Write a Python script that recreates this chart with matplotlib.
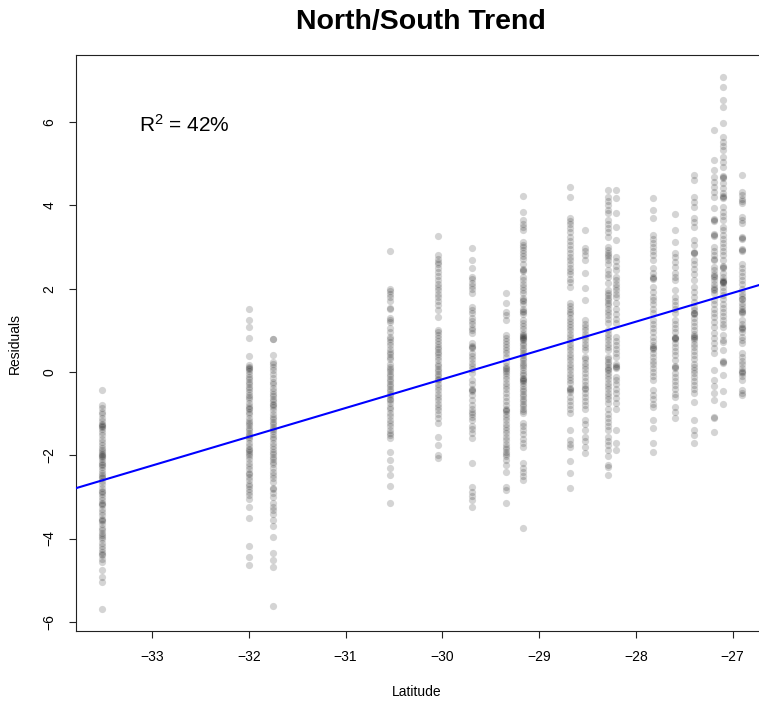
import matplotlib
matplotlib.use("Agg")
import matplotlib.pyplot as plt
import numpy as np

# ---- data ----
latitudes = [-33.52, -32.00, -31.75, -30.54, -30.04, -29.69, -29.34, -29.17, -28.68,
             -28.53, -28.29, -28.21, -27.82, -27.60, -27.40, -27.19, -27.10, -26.90]

res_01 = [-0.43, -0.80, -0.86, -0.95, -1.02, -1.10, -1.18, -1.24, -1.28, -1.30, -1.32, -1.36, -1.45, -1.52,
          -1.60, -1.68, -1.75, -1.82, -1.88, -1.93, -1.97, -2.00, -2.02, -2.05, -2.10, -2.16, -2.22, -2.24,
          -2.28, -2.35, -2.42, -2.48, -2.52, -2.55, -2.62, -2.70, -2.78, -2.85, -2.88, -2.92, -3.00, -3.08,
          -3.14, -3.16, -3.20, -3.28, -3.36, -3.44, -3.52, -3.55, -3.58, -3.66, -3.74, -3.80, -3.86, -3.92,
          -3.96, -4.02, -4.10, -4.18, -4.26, -4.32, -4.36, -4.40, -4.48, -4.56, -4.75, -4.92, -5.04, -5.68]
res_02 = [1.50, 1.25, 1.09, 0.81, 0.38, 0.17, 0.12, 0.10, 0.08, 0.02, -0.05, -0.12, -0.18, -0.24, -0.30,
          -0.35, -0.42, -0.48, -0.55, -0.60, -0.66, -0.74, -0.82, -0.86, -0.88, -0.95, -1.02, -1.10, -1.18,
          -1.22, -1.28, -1.34, -1.40, -1.46, -1.52, -1.56, -1.62, -1.70, -1.78, -1.85, -1.88, -1.92, -1.96,
          -2.02, -2.10, -2.18, -2.26, -2.34, -2.42, -2.44, -2.52, -2.60, -2.68, -2.74, -2.80, -2.88, -2.96,
          -3.05, -3.25, -3.50, -4.18, -4.44, -4.63]
res_03 = [0.78, 0.78, 0.41, 0.24, 0.18, 0.12, 0.05, -0.05, -0.15, -0.23, -0.30, -0.38, -0.46, -0.52, -0.58,
          -0.64, -0.70, -0.76, -0.80, -0.84, -0.92, -1.00, -1.08, -1.14, -1.20, -1.26, -1.32, -1.38, -1.42,
          -1.48, -1.55, -1.62, -1.70, -1.78, -1.86, -1.92, -1.98, -2.04, -2.10, -2.16, -2.22, -2.30, -2.40,
          -2.47, -2.55, -2.65, -2.79, -2.80, -2.90, -3.00, -3.14, -3.24, -3.32, -3.42, -3.55, -3.70, -3.96,
          -4.35, -4.51, -4.68, -5.63]
res_04 = [2.90, 2.00, 1.94, 1.88, 1.80, 1.70, 1.53, 1.50, 1.30, 1.25, 1.20, 1.05, 0.95, 0.85, 0.80, 0.72,
          0.64, 0.55, 0.48, 0.42, 0.37, 0.30, 0.20, 0.13, 0.08, 0.02, -0.04, -0.10, -0.16, -0.22, -0.28,
          -0.34, -0.40, -0.46, -0.52, -0.58, -0.64, -0.67, -0.75, -0.84, -0.90, -0.98, -1.06, -1.15, -1.22,
          -1.30, -1.40, -1.46, -1.52, -1.58, -1.92, -2.11, -2.31, -2.47, -2.75, -3.15]
res_05 = [3.27, 2.80, 2.72, 2.64, 2.58, 2.50, 2.40, 2.30, 2.20, 2.10, 2.05, 1.97, 1.88, 1.80, 1.70, 1.60,
          1.49, 1.32, 1.00, 0.95, 0.88, 0.82, 0.75, 0.68, 0.60, 0.55, 0.48, 0.42, 0.36, 0.29, 0.20, 0.14,
          0.08, 0.02, -0.04, -0.10, -0.16, -0.20, -0.28, -0.36, -0.44, -0.52, -0.60, -0.68, -0.76, -0.84,
          -0.92, -1.00, -1.10, -1.22, -1.55, -1.75, -2.00, -2.06]
res_06 = [2.97, 2.69, 2.49, 2.28, 2.22, 2.14, 2.06, 1.98, 1.90, 1.56, 1.48, 1.41, 1.30, 1.22, 1.14, 1.06,
          1.00, 0.93, 0.70, 0.62, 0.60, 0.58, 0.45, 0.38, 0.30, 0.22, 0.14, 0.06, -0.03, -0.20, -0.30, -0.40,
          -0.44, -0.46, -0.56, -0.67, -0.80, -0.90, -0.96, -1.02, -1.08, -1.15, -1.30, -1.38, -1.46, -1.58,
          -2.19, -2.76, -2.88, -2.98, -3.08, -3.24]
res_07 = [1.89, 1.65, 1.45, 1.36, 1.25, 0.89, 0.82, 0.75, 0.68, 0.60, 0.52, 0.45, 0.36, 0.24, 0.14, 0.10,
          0.08, 0.03, -0.03, -0.10, -0.18, -0.26, -0.34, -0.42, -0.50, -0.60, -0.70, -0.80, -0.88, -0.91,
          -0.94, -1.00, -1.08, -1.15, -1.24, -1.32, -1.40, -1.47, -1.56, -1.64, -1.72, -1.80, -1.86, -1.92,
          -1.96, -2.02, -2.11, -2.24, -2.40, -2.77, -2.83, -3.15]
res_08 = [4.22, 3.84, 3.65, 3.56, 3.48, 3.41, 3.12, 3.06, 3.00, 2.93, 2.85, 2.78, 2.70, 2.60, 2.48, 2.45,
          2.42, 2.28, 2.20, 2.12, 2.04, 1.96, 1.90, 1.78, 1.73, 1.70, 1.62, 1.52, 1.46, 1.44, 1.40, 1.25,
          1.18, 1.10, 1.02, 0.93, 0.88, 0.86, 0.84, 0.82, 0.80, 0.77, 0.70, 0.64, 0.58, 0.52, 0.46, 0.40,
          0.34, 0.28, 0.22, 0.16, 0.12, 0.05, -0.02, -0.08, -0.14, -0.18, -0.20, -0.22, -0.27, -0.34, -0.40,
          -0.46, -0.52, -0.58, -0.64, -0.70, -0.76, -0.82, -0.88, -0.94, -0.99, -1.22, -1.30, -1.40, -1.50,
          -1.60, -1.70, -1.80, -2.19, -2.30, -2.40, -2.50, -2.59, -3.74]
res_09 = [4.44, 4.20, 3.70, 3.62, 3.55, 3.46, 3.36, 3.25, 3.15, 3.05, 2.95, 2.86, 2.77, 2.69, 2.60, 2.50,
          2.42, 2.34, 2.24, 2.15, 2.05, 1.65, 1.58, 1.50, 1.44, 1.38, 1.30, 1.22, 1.15, 1.09, 1.00, 0.92,
          0.84, 0.76, 0.68, 0.60, 0.52, 0.44, 0.36, 0.28, 0.20, 0.12, 0.04, -0.04, -0.12, -0.20, -0.27,
          -0.38, -0.42, -0.44, -0.48, -0.60, -0.70, -0.80, -0.90, -0.99, -1.40, -1.63, -1.72, -1.80, -2.15,
          -2.43, -2.78]
res_10 = [3.41, 2.98, 2.90, 2.80, 2.69, 2.37, 2.02, 1.73, 1.25, 1.16, 1.09, 1.00, 0.92, 0.84, 0.76, 0.68,
          0.60, 0.53, 0.37, 0.30, 0.22, 0.14, 0.06, -0.02, -0.11, -0.22, -0.32, -0.39, -0.42, -0.50, -0.60,
          -0.70, -0.80, -0.90, -1.15, -1.25, -1.40, -1.55, -1.66, -1.80, -1.95]
res_11 = [4.37, 4.20, 4.10, 4.00, 3.90, 3.82, 3.65, 3.55, 3.45, 3.35, 3.25, 3.00, 2.92, 2.85, 2.80, 2.75,
          2.68, 2.60, 2.45, 2.36, 2.27, 2.13, 1.97, 1.90, 1.84, 1.78, 1.72, 1.66, 1.60, 1.52, 1.44, 1.36,
          1.28, 1.18, 1.00, 0.92, 0.84, 0.76, 0.68, 0.60, 0.53, 0.37, 0.30, 0.24, 0.18, 0.12, 0.08, 0.05,
          -0.03, -0.10, -0.18, -0.26, -0.34, -0.42, -0.50, -0.58, -0.66, -0.75, -0.90, -1.00, -1.10, -1.20,
          -1.30, -1.40, -1.55, -1.65, -1.76, -1.87, -2.03, -2.23, -2.28, -2.47]
res_12 = [4.37, 4.17, 3.82, 3.49, 3.17, 2.77, 2.66, 2.55, 2.45, 2.28, 2.20, 2.12, 2.04, 1.96, 1.88, 1.80,
          1.65, 1.52, 1.40, 1.28, 1.18, 0.84, 0.74, 0.64, 0.54, 0.45, 0.37, 0.18, 0.14, 0.12, 0.10, -0.11,
          -0.20, -0.30, -0.40, -0.50, -0.62, -0.75, -0.90, -1.40, -1.70, -1.87]
res_13 = [4.17, 3.89, 3.69, 3.29, 3.20, 3.10, 3.00, 2.90, 2.80, 2.69, 2.49, 2.37, 2.27, 2.25, 2.23, 2.04,
          1.92, 1.80, 1.73, 1.62, 1.52, 1.41, 1.25, 1.15, 1.05, 0.95, 0.85, 0.75, 0.65, 0.60, 0.58, 0.56,
          0.45, 0.36, 0.27, 0.18, 0.09, 0.00, -0.10, -0.20, -0.44, -0.55, -0.66, -0.76, -0.84, -1.15, -1.35,
          -1.70, -1.92]
res_14 = [3.79, 3.41, 3.12, 2.85, 2.75, 2.64, 2.52, 2.37, 2.28, 2.20, 1.97, 1.80, 1.70, 1.60, 1.50, 1.41,
          1.25, 1.15, 1.05, 0.95, 0.84, 0.82, 0.81, 0.80, 0.70, 0.60, 0.50, 0.40, 0.29, 0.14, 0.12, 0.10,
          -0.03, -0.12, -0.22, -0.32, -0.42, -0.52, -0.60, -0.84, -0.96, -1.10]
res_15 = [4.73, 4.61, 4.20, 4.08, 3.96, 3.70, 3.60, 3.49, 3.17, 3.05, 2.88, 2.86, 2.85, 2.69, 2.58, 2.48,
          2.36, 2.21, 2.04, 1.92, 1.80, 1.68, 1.56, 1.48, 1.42, 1.41, 1.40, 1.30, 1.20, 1.10, 1.00, 0.90,
          0.86, 0.84, 0.82, 0.77, 0.68, 0.60, 0.50, 0.40, 0.30, 0.20, 0.12, 0.04, -0.03, -0.12, -0.22,
          -0.32, -0.42, -0.50, -0.72, -1.15, -1.40, -1.51, -1.70]
res_16 = [5.81, 5.09, 4.85, 4.68, 4.56, 4.44, 4.32, 4.20, 3.94, 3.67, 3.65, 3.63, 3.31, 3.29, 3.27, 3.00,
          2.90, 2.80, 2.72, 2.69, 2.52, 2.44, 2.36, 2.30, 2.28, 2.20, 2.12, 2.04, 1.98, 1.96, 1.90, 1.73,
          1.62, 1.52, 1.42, 1.32, 1.20, 1.09, 0.93, 0.82, 0.70, 0.58, 0.45, 0.05, -0.20, -0.34, -0.50,
          -0.67, -1.09, -1.10, -1.44]
res_17 = [7.08, 6.84, 6.53, 6.36, 5.98, 5.64, 5.52, 5.42, 5.33, 5.16, 5.04, 4.92, 4.70, 4.68, 4.66, 4.54,
          4.42, 4.30, 4.22, 4.20, 4.18, 3.96, 3.84, 3.74, 3.65, 3.49, 3.40, 3.30, 3.20, 3.10, 3.00, 2.90,
          2.80, 2.69, 2.54, 2.52, 2.50, 2.37, 2.28, 2.20, 2.18, 2.16, 2.16, 2.14, 2.04, 1.94, 1.84, 1.74,
          1.64, 1.54, 1.44, 1.34, 1.24, 1.16, 1.09, 0.89, 0.77, 0.72, 0.53, 0.26, 0.24, 0.22, -0.08, -0.45,
          -0.77]
res_18 = [4.73, 4.32, 4.24, 4.16, 4.10, 4.06, 3.72, 3.65, 3.58, 3.24, 3.22, 3.20, 2.95, 2.93, 2.91, 2.60,
          2.50, 2.40, 2.30, 2.20, 2.10, 2.00, 1.90, 1.82, 1.76, 1.74, 1.66, 1.58, 1.50, 1.46, 1.43, 1.41,
          1.25, 1.15, 1.07, 1.05, 1.03, 0.95, 0.85, 0.77, 0.70, 0.45, 0.36, 0.27, 0.18, 0.10, 0.02, 0.00,
          -0.02, -0.10, -0.20, -0.43, -0.50, -0.55]

residual_columns = [res_01, res_02, res_03, res_04, res_05, res_06, res_07, res_08, res_09,
                    res_10, res_11, res_12, res_13, res_14, res_15, res_16, res_17, res_18]

fit_intercept = 20.555
fit_slope = 0.691

x_ticks = [-33, -32, -31, -30, -29, -28, -27]
y_ticks = [-6, -4, -2, 0, 2, 4, 6]
title_text = "North/South Trend"
x_label = "Latitude"
y_label = "Residuals"
annot_text = r"R$^2$ = 42%"

# ---- plot ----
plt.rcParams['font.family'] = ['Liberation Sans', 'DejaVu Sans']
plt.rcParams['mathtext.fontset'] = 'custom'
plt.rcParams['mathtext.rm'] = 'Liberation Sans'
plt.rcParams['mathtext.it'] = 'Liberation Sans'
plt.rcParams['axes.unicode_minus'] = True

W, H = 759, 702
fig = plt.figure(figsize=(W / 100, H / 100), dpi=100)
ax = fig.add_axes([76 / W, 1 - 631 / H, (W - 76) / W + 0.01, (631 - 55) / H])

xs, ys = [], []
for lat, col in zip(latitudes, residual_columns):
    xs.extend([lat] * len(col))
    ys.extend(col)
ax.scatter(xs, ys, s=27, c='black', alpha=0.17, linewidths=0, zorder=2)

xlim = (-33.785, -26.65)
xl = np.array(xlim)
ax.plot(xl, fit_intercept + fit_slope * xl, color='#0000FF', lw=1.5, zorder=3)

ax.set_xlim(*xlim)
ax.set_ylim(-6.22, 7.61)
ax.set_xticks(x_ticks)
ax.set_yticks(y_ticks)
ax.set_xticklabels([f"\u2212{abs(t)}" if t < 0 else str(t) for t in x_ticks])
ax.set_yticklabels([f"\u2212{abs(t)}" if t < 0 else str(t) for t in y_ticks],
                   rotation=90, va='center')
ax.tick_params(length=5, width=0.8, labelsize=10, pad=9, color='#222222')
for s in ['left', 'bottom', 'top']:
    ax.spines[s].set_linewidth(0.8)
    ax.spines[s].set_color('#222222')
ax.spines['right'].set_visible(False)

ax.text(-32.66, 5.93, annot_text, fontsize=15, ha='center', va='center')

fig.text(421 / W, 1 - 29.5 / H, title_text, fontsize=20.5, fontweight='bold',
         ha='center', va='baseline')
fig.text(417 / W, 1 - 692 / H, x_label, fontsize=10, ha='center', va='center')
fig.text(15 / W, 1 - 343 / H, y_label, fontsize=10, ha='center', va='center', rotation=90)

fig.savefig("out.png", dpi=100)
